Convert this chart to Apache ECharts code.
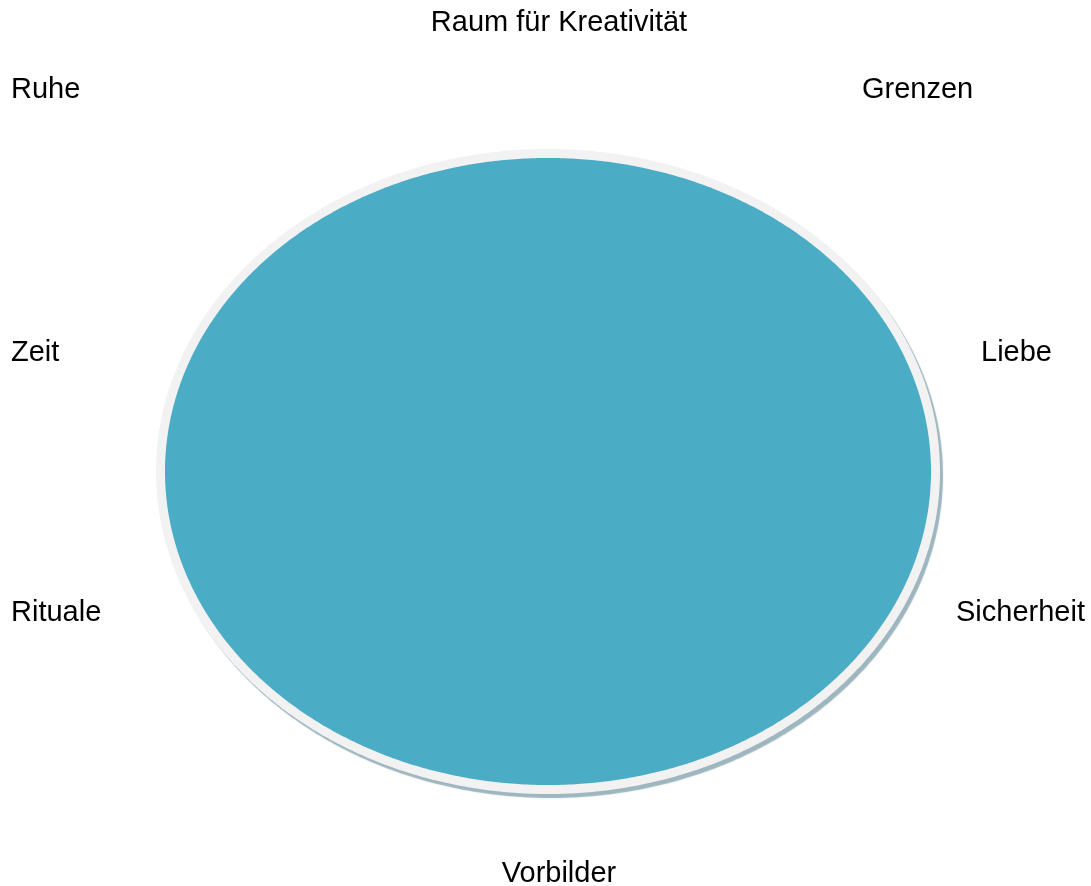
<!DOCTYPE html>
<html>
<head>
<meta charset="utf-8">
<script src="https://cdn.jsdelivr.net/npm/echarts@6/dist/echarts.min.js"></script>
<style>
  html, body { margin: 0; padding: 0; background: #fff; }
  #main { width: 1091px; height: 886px; }
</style>
</head>
<body>
<div id="main"></div>
<script>
// indicators, clockwise from the top
var categories = ['Raum für Kreativität', 'Grenzen', 'Liebe', 'Sicherheit', 'Vorbilder', 'Rituale', 'Zeit', 'Ruhe'];
var values = [5, 5, 5, 5, 5, 5, 5, 5];
var maxValue = 5;

// where each label sits (layout only)
var labelLayout = [
    {x: 559, y: 23, align: 'center'},
    {x: 862, y: 90, align: 'left'},
    {x: 981, y: 353, align: 'left'},
    {x: 956, y: 613, align: 'left'},
    {x: 559, y: 874, align: 'center'},
    {x: 11, y: 613, align: 'left'},
    {x: 11, y: 353, align: 'left'},
    {x: 11, y: 90, align: 'left'}
];

var myChart = echarts.init(document.getElementById('main'));

function shapePoints(api, pad) {
    var n = values.length;
    var steps = 720;
    var c = api.coord([0, 0]);
    var pts = [];
    for (var s = 0; s < steps; s++) {
        var t = s / steps * n;
        var i = Math.floor(t);
        var f = t - i;
        var v = values[i % n] * (1 - f) + values[(i + 1) % n] * f;
        var ang = t / n * Math.PI * 2;
        var p = api.coord([v * Math.sin(ang), v * Math.cos(ang)]);
        var dx = p[0] - c[0], dy = p[1] - c[1];
        var len = Math.sqrt(dx * dx + dy * dy) || 1;
        pts.push([p[0] + dx / len * pad, p[1] + dy / len * pad]);
    }
    return pts;
}

var option = {
    animation: false,
    grid: {left: 165, right: 160, top: 158, bottom: 101},
    xAxis: {type: 'value', min: -maxValue, max: maxValue, show: false},
    yAxis: {type: 'value', min: -maxValue, max: maxValue, show: false},
    graphic: categories.map(function (name, i) {
        return {
            type: 'text',
            x: labelLayout[i].x,
            y: labelLayout[i].y,
            style: {
                text: name,
                fill: '#000',
                font: '29px "Liberation Sans", Arial, sans-serif',
                textAlign: labelLayout[i].align,
                textVerticalAlign: 'middle'
            }
        };
    }),
    series: [{
        type: 'custom',
        coordinateSystem: 'cartesian2d',
        data: values.map(function (v, i) { return [i, v]; }),
        renderItem: function (params, api) {
            if (params.dataIndex !== 0) return null;
            return {
                type: 'group',
                children: [{
                    type: 'polygon',
                    shape: {points: shapePoints(api, 9)},
                    style: {
                        fill: '#f2f2f2',
                        shadowColor: 'rgba(125,158,170,0.75)',
                        shadowBlur: 1,
                        shadowOffsetX: 3,
                        shadowOffsetY: 4
                    }
                }, {
                    type: 'polygon',
                    shape: {points: shapePoints(api, 0)},
                    style: {fill: '#4bacc6'}
                }]
            };
        }
    }]
};
myChart.setOption(option);
</script>
</body>
</html>
